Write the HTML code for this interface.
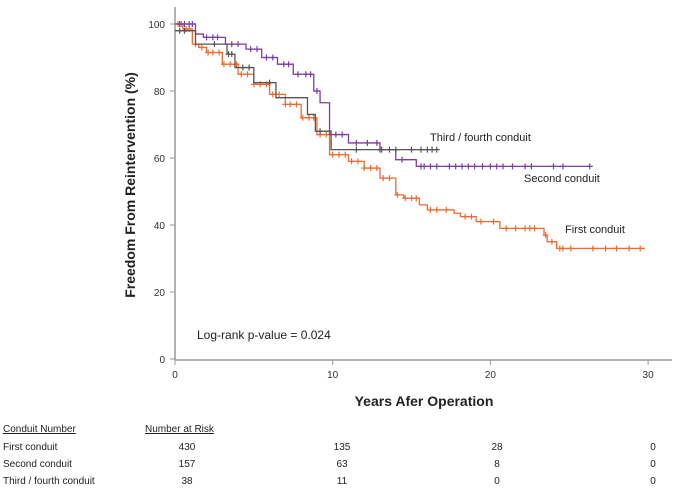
<!DOCTYPE html>
<html><head><meta charset="utf-8"><style>
body{margin:0;background:#fff;font-family:"Liberation Sans",Arial,sans-serif}
svg text{font-family:"Liberation Sans",Arial,sans-serif}
</style></head><body>
<svg id="c" width="676" height="487" xmlns="http://www.w3.org/2000/svg"></svg>
<script>
const xTicks=[0,10,20,30];
const yTicks=[0,20,40,60,80,100];
const firstT=[0,0.5,1.1,1.5,2,3,4,5,6,7,8,9,9.8,11,12,13,14,14.5,15.5,16,17.7,18.1,19.1,20.6,23.4,23.6,24.2,29.8];
const firstS=[100,98.5,94,93,91.5,88,85,82,79,76,72,67,61,59,57,54,49,48,46,44.5,43.5,42.5,41,39,37,35,33,33];
const firstC=[0.2,0.4,0.7,0.9,1.3,1.7,2.1,2.4,2.8,3.1,3.5,3.9,4.2,4.6,5,5.4,5.8,6.2,6.6,7,7.3,7.7,8.1,8.5,8.8,9.2,9.6,10,10.4,10.8,11.2,11.6,12,12.4,12.8,13.2,13.6,14.1,14.6,15,15.3,16.2,16.6,17.2,18.4,18.8,19.4,20.2,21,21.6,22.2,22.5,22.8,23.5,23.9,24.4,24.6,25.1,26.5,27.3,28,28.8,29.5];
const secondT=[0,1.3,1.8,3.2,4.5,5.5,6.5,7.5,8.8,9.2,9.8,11,13,14,15.3,26.3];
const secondS=[100,97,96,94,92.5,90,88,85,80,76.5,67,64.5,62.5,59.5,57.5,57.5];
const secondC=[0.3,0.6,0.9,1.1,2,2.4,2.7,3.6,4,4.8,5.2,5.8,6.2,6.9,7.2,7.8,8.3,8.6,9,10.2,10.6,11.5,12.2,12.8,13.6,14.4,15.6,15.8,16.2,16.6,17.4,17.8,18.2,18.6,19,19.5,20,20.4,20.8,21.4,22.2,22.6,24,24.6,26.3];
const thirdT=[0,1.3,3.3,3.8,5.0,6.4,8.4,8.9,9.9,16.6];
const thirdS=[98,94,91,87,82.5,78,73,68,62.5,62.5];
const thirdC=[0.3,0.6,2.5,3.4,3.6,4.3,4.7,6,9.2,11.5,13,13.1,14,15,15.6,16,16.3,16.6];
const riskRows=["First conduit","Second conduit","Third / fourth conduit"];
const risk=[[430,135,28,0],[157,63,8,0],[38,11,0,0]];

const svg=document.getElementById('c');
const NS='http://www.w3.org/2000/svg';
const X=t=>175+t*15.77;
const Y=v=>359-v*3.35;
function mk(tag,at,txt){const e=document.createElementNS(NS,tag);for(const k in at)e.setAttribute(k,at[k]);if(txt!==undefined)e.textContent=txt;svg.appendChild(e);return e;}
let e;
e=mk('line',{x1:175,y1:7,x2:175,y2:360,stroke:'#999','stroke-width':1.5});


e=mk('line',{x1:175,y1:360,x2:672,y2:360,stroke:'#999','stroke-width':1.5});


yTicks.forEach(v=>{
 mk('line',{x1:170,y1:Y(v),x2:175,y2:Y(v),stroke:'#999'});
 e=mk('text',{x:165,y:Y(v)+4,'text-anchor':'end','font-size':10,fill:'#333'},v);
 
 
});
xTicks.forEach(v=>{
 mk('line',{x1:X(v),y1:360,x2:X(v),y2:365,stroke:'#999'});
 e=mk('text',{x:X(v),y:378,'text-anchor':'middle','font-size':10,fill:'#333'},v);
 
 
});
e=mk('text',{x:424,y:406,'text-anchor':'middle','font-size':14,'font-weight':'bold',fill:'#222'},'Years Afer Operation');


e=mk('text',{x:0,y:0,transform:'translate(135,185) rotate(-90)','text-anchor':'middle','font-size':14,'font-weight':'bold',fill:'#222'},'Freedom From Reintervention (%)');



function stepAt(T,S,t){let s=S[0];for(let i=0;i<T.length;i++){if(T[i]<=t)s=S[i];}return s;}
function series(T,S,C,col,name){
 let d='M'+X(T[0])+' '+Y(S[0]);
 for(let i=1;i<T.length;i++){d+=' H'+X(T[i])+' V'+Y(S[i]);}
 e=mk('path',{d:d,fill:'none',stroke:col,'stroke-width':1.3});
 
 
 C.forEach(t=>{
  const cx=X(t),cy=Y(stepAt(T,S,t));
  e=mk('path',{d:`M${cx-3} ${cy}H${cx+3}M${cx} ${cy-3}V${cy+3}`,stroke:col,'stroke-width':1.2});
  
  
 });
}
series(firstT,firstS,firstC,'#f26a2e','first-conduit');
series(secondT,secondS,secondC,'#7b3fa0','second-conduit');
series(thirdT,thirdS,thirdC,'#555','third-fourth-conduit');

e=mk('text',{x:430,y:141,'font-size':11,fill:'#222'},'Third / fourth conduit');


e=mk('text',{x:524,y:182,'font-size':11,fill:'#222'},'Second conduit');


e=mk('text',{x:565,y:233,'font-size':11,fill:'#222'},'First conduit');


e=mk('text',{x:197,y:339,'font-size':12,fill:'#222'},'Log-rank p-value = 0.024');



e=mk('text',{x:3,y:432,'font-size':10,fill:'#222','text-decoration':'underline'},'Conduit Number');


e=mk('text',{x:145,y:432,'font-size':10,fill:'#222','text-decoration':'underline'},'Number at Risk');


const colX=[187,342,497,653];
riskRows.forEach((r,i)=>{
 const y=450+i*17;
 e=mk('text',{x:3,y:y,'font-size':10,fill:'#222'},r);
 
 
 risk[i].forEach((n,j)=>{
  e=mk('text',{x:colX[j],y:y,'font-size':10,fill:'#222','text-anchor':'middle'},n);
  
  
 });
});
</script>
</body></html>
